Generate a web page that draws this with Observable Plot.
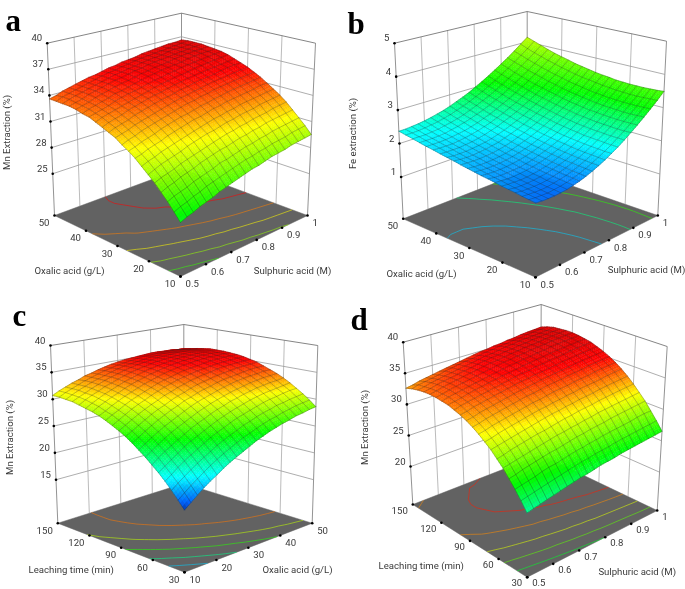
<!DOCTYPE html>
<html><head><meta charset="utf-8">
<script src="https://cdn.jsdelivr.net/npm/d3@7"></script>
<script src="https://cdn.jsdelivr.net/npm/@observablehq/plot@0.6"></script>
<style>html,body{margin:0;padding:0;background:#fff}svg{display:block;filter:blur(.3px)}</style></head><body>
<script>
// Response heights: one row per y-axis grid line, one value per x-axis grid line
const mnOxalicSulphuric=[
[25.8,26.1,26.3,26.6,26.8,27.0,27.3,27.5,27.7,27.9,28.1,28.3,28.4,28.6,28.8,28.9,29.0,29.2,29.3,29.4,29.5],
[26.6,26.9,27.1,27.4,27.6,27.9,28.1,28.3,28.5,28.7,28.9,29.1,29.2,29.4,29.5,29.7,29.8,29.9,30.1,30.2,30.3],
[27.4,27.7,27.9,28.1,28.4,28.6,28.8,29.0,29.3,29.4,29.6,29.8,30.0,30.1,30.3,30.4,30.6,30.7,30.8,30.9,31.0],
[28.1,28.4,28.6,28.9,29.1,29.3,29.6,29.8,30.0,30.2,30.3,30.5,30.7,30.8,31.0,31.1,31.3,31.4,31.5,31.6,31.7],
[28.8,29.1,29.3,29.5,29.8,30.0,30.2,30.4,30.6,30.8,31.0,31.2,31.3,31.5,31.6,31.8,31.9,32.0,32.2,32.3,32.4],
[29.4,29.7,30.0,30.2,30.4,30.6,30.9,31.1,31.3,31.5,31.6,31.8,32.0,32.1,32.3,32.4,32.5,32.7,32.8,32.9,33.0],
[30.0,30.3,30.5,30.8,31.0,31.2,31.4,31.6,31.8,32.0,32.2,32.4,32.5,32.7,32.8,33.0,33.1,33.2,33.3,33.4,33.5],
[30.6,30.8,31.1,31.3,31.5,31.8,32.0,32.2,32.4,32.6,32.7,32.9,33.1,33.2,33.4,33.5,33.6,33.7,33.8,34.0,34.0],
[31.1,31.3,31.6,31.8,32.0,32.3,32.5,32.7,32.9,33.0,33.2,33.4,33.5,33.7,33.8,34.0,34.1,34.2,34.3,34.4,34.5],
[31.5,31.8,32.0,32.3,32.5,32.7,32.9,33.1,33.3,33.5,33.7,33.8,34.0,34.1,34.3,34.4,34.5,34.6,34.7,34.8,34.9],
[32.0,32.2,32.4,32.7,32.9,33.1,33.3,33.5,33.7,33.9,34.1,34.2,34.4,34.5,34.7,34.8,34.9,35.0,35.1,35.2,35.3],
[32.3,32.6,32.8,33.0,33.3,33.5,33.7,33.9,34.1,34.2,34.4,34.6,34.7,34.9,35.0,35.1,35.2,35.4,35.5,35.6,35.6],
[32.6,32.9,33.1,33.3,33.6,33.8,34.0,34.2,34.4,34.5,34.7,34.9,35.0,35.2,35.3,35.4,35.5,35.6,35.7,35.8,35.9],
[32.9,33.2,33.4,33.6,33.8,34.0,34.2,34.4,34.6,34.8,35.0,35.1,35.3,35.4,35.5,35.7,35.8,35.9,36.0,36.1,36.2],
[33.2,33.4,33.6,33.8,34.1,34.3,34.5,34.6,34.8,35.0,35.2,35.3,35.5,35.6,35.8,35.9,36.0,36.1,36.2,36.3,36.4],
[33.3,33.6,33.8,34.0,34.2,34.5,34.6,34.8,35.0,35.2,35.4,35.5,35.7,35.8,35.9,36.0,36.2,36.3,36.4,36.4,36.5],
[33.5,33.7,33.9,34.2,34.4,34.6,34.8,35.0,35.1,35.3,35.5,35.6,35.8,35.9,36.0,36.2,36.3,36.4,36.5,36.5,36.6],
[33.6,33.8,34.0,34.3,34.5,34.7,34.9,35.1,35.2,35.4,35.6,35.7,35.9,36.0,36.1,36.2,36.3,36.4,36.5,36.6,36.7],
[33.6,33.9,34.1,34.3,34.5,34.7,34.9,35.1,35.3,35.4,35.6,35.7,35.9,36.0,36.1,36.2,36.4,36.5,36.5,36.6,36.7],
[33.6,33.9,34.1,34.3,34.5,34.7,34.9,35.1,35.3,35.4,35.6,35.7,35.9,36.0,36.1,36.2,36.3,36.4,36.5,36.6,36.7],
[33.6,33.8,34.1,34.3,34.5,34.7,34.9,35.0,35.2,35.4,35.5,35.7,35.8,35.9,36.1,36.2,36.3,36.4,36.5,36.5,36.6]];
const feOxalicSulphuric=[
[1.76,1.74,1.73,1.73,1.74,1.76,1.80,1.84,1.90,1.97,2.05,2.14,2.25,2.36,2.49,2.63,2.78,2.94,3.11,3.29,3.49],
[1.78,1.76,1.75,1.74,1.76,1.78,1.81,1.86,1.91,1.98,2.06,2.15,2.25,2.36,2.49,2.62,2.77,2.93,3.10,3.28,3.47],
[1.80,1.78,1.77,1.76,1.77,1.80,1.83,1.87,1.92,1.99,2.07,2.16,2.26,2.37,2.49,2.62,2.77,2.92,3.09,3.27,3.46],
[1.83,1.80,1.79,1.79,1.79,1.81,1.85,1.89,1.94,2.01,2.08,2.17,2.27,2.38,2.50,2.63,2.77,2.92,3.09,3.26,3.45],
[1.85,1.82,1.81,1.81,1.82,1.84,1.87,1.91,1.96,2.02,2.10,2.18,2.28,2.39,2.51,2.64,2.78,2.93,3.09,3.26,3.45],
[1.87,1.85,1.84,1.83,1.84,1.86,1.89,1.93,1.98,2.05,2.12,2.20,2.30,2.40,2.52,2.65,2.79,2.94,3.10,3.27,3.45],
[1.90,1.88,1.86,1.86,1.87,1.89,1.92,1.96,2.01,2.07,2.14,2.23,2.32,2.43,2.54,2.67,2.81,2.95,3.11,3.28,3.46],
[1.93,1.90,1.89,1.89,1.90,1.91,1.94,1.98,2.04,2.10,2.17,2.25,2.34,2.45,2.56,2.69,2.82,2.97,3.13,3.30,3.47],
[1.95,1.93,1.92,1.92,1.93,1.95,1.98,2.02,2.07,2.13,2.20,2.28,2.37,2.48,2.59,2.71,2.85,3.00,3.15,3.32,3.50],
[1.98,1.96,1.95,1.95,1.96,1.98,2.01,2.05,2.10,2.16,2.23,2.31,2.41,2.51,2.62,2.75,2.88,3.03,3.18,3.35,3.52],
[2.01,1.99,1.98,1.98,1.99,2.01,2.04,2.08,2.14,2.20,2.27,2.35,2.44,2.55,2.66,2.78,2.91,3.06,3.21,3.38,3.55],
[2.04,2.03,2.02,2.02,2.03,2.05,2.08,2.12,2.17,2.24,2.31,2.39,2.48,2.59,2.70,2.82,2.95,3.10,3.25,3.41,3.59],
[2.08,2.06,2.05,2.05,2.07,2.09,2.12,2.16,2.22,2.28,2.35,2.43,2.53,2.63,2.74,2.87,3.00,3.14,3.29,3.45,3.63],
[2.11,2.09,2.09,2.09,2.11,2.13,2.16,2.20,2.26,2.32,2.40,2.48,2.57,2.68,2.79,2.91,3.05,3.19,3.34,3.50,3.67],
[2.14,2.13,2.13,2.13,2.15,2.17,2.21,2.25,2.31,2.37,2.45,2.53,2.62,2.73,2.84,2.96,3.10,3.24,3.39,3.55,3.73],
[2.18,2.17,2.17,2.17,2.19,2.22,2.26,2.30,2.36,2.42,2.50,2.58,2.68,2.78,2.90,3.02,3.15,3.30,3.45,3.61,3.78],
[2.21,2.21,2.21,2.22,2.24,2.27,2.30,2.35,2.41,2.48,2.55,2.64,2.74,2.84,2.96,3.08,3.21,3.36,3.51,3.67,3.84],
[2.25,2.25,2.25,2.26,2.28,2.32,2.36,2.41,2.47,2.54,2.61,2.70,2.80,2.90,3.02,3.15,3.28,3.42,3.58,3.74,3.91],
[2.29,2.29,2.29,2.31,2.33,2.37,2.41,2.46,2.52,2.60,2.68,2.77,2.86,2.97,3.09,3.22,3.35,3.50,3.65,3.81,3.99],
[2.33,2.33,2.34,2.36,2.39,2.42,2.47,2.52,2.59,2.66,2.74,2.83,2.93,3.04,3.16,3.29,3.43,3.57,3.73,3.89,4.07],
[2.37,2.37,2.39,2.41,2.44,2.48,2.53,2.58,2.65,2.73,2.81,2.90,3.01,3.12,3.24,3.37,3.51,3.65,3.81,3.98,4.15]];
const mnTimeOxalic=[
[17.3,18.2,19.1,20.0,20.8,21.5,22.3,23.0,23.6,24.2,24.8,25.4,25.9,26.4,26.8,27.2,27.5,27.9,28.1,28.4,28.6],
[18.6,19.5,20.4,21.2,22.0,22.8,23.5,24.2,24.8,25.4,26.0,26.5,27.0,27.5,27.9,28.2,28.6,28.9,29.2,29.4,29.6],
[19.9,20.8,21.6,22.4,23.2,23.9,24.6,25.3,25.9,26.5,27.0,27.6,28.0,28.5,28.9,29.2,29.6,29.8,30.1,30.3,30.5],
[21.1,21.9,22.8,23.6,24.3,25.0,25.7,26.4,27.0,27.5,28.1,28.6,29.0,29.4,29.8,30.2,30.5,30.7,31.0,31.2,31.3],
[22.2,23.0,23.8,24.6,25.4,26.1,26.7,27.3,27.9,28.5,29.0,29.5,29.9,30.3,30.7,31.0,31.3,31.5,31.7,31.9,32.1],
[23.2,24.1,24.9,25.6,26.3,27.0,27.7,28.3,28.8,29.4,29.9,30.3,30.8,31.1,31.5,31.8,32.1,32.3,32.5,32.6,32.8],
[24.2,25.0,25.8,26.6,27.3,27.9,28.5,29.1,29.7,30.2,30.7,31.1,31.5,31.9,32.2,32.5,32.8,33.0,33.2,33.3,33.4],
[25.1,25.9,26.7,27.4,28.1,28.7,29.3,29.9,30.5,31.0,31.4,31.8,32.2,32.6,32.9,33.2,33.4,33.6,33.7,33.9,33.9],
[26.0,26.7,27.5,28.2,28.9,29.5,30.1,30.6,31.2,31.6,32.1,32.5,32.8,33.2,33.5,33.7,33.9,34.1,34.3,34.4,34.4],
[26.8,27.5,28.2,28.9,29.6,30.2,30.7,31.3,31.8,32.2,32.7,33.1,33.4,33.7,34.0,34.2,34.4,34.6,34.7,34.8,34.9],
[27.5,28.2,28.9,29.6,30.2,30.8,31.3,31.9,32.3,32.8,33.2,33.6,33.9,34.2,34.4,34.7,34.9,35.0,35.1,35.2,35.2],
[28.1,28.8,29.5,30.2,30.8,31.3,31.9,32.4,32.9,33.3,33.7,34.0,34.3,34.6,34.8,35.0,35.2,35.3,35.4,35.5,35.5],
[28.7,29.4,30.0,30.7,31.3,31.8,32.3,32.8,33.3,33.7,34.0,34.4,34.7,34.9,35.1,35.3,35.5,35.6,35.7,35.7,35.7],
[29.2,29.8,30.5,31.1,31.7,32.2,32.7,33.2,33.6,34.0,34.4,34.7,35.0,35.2,35.4,35.6,35.7,35.8,35.8,35.9,35.8],
[29.6,30.3,30.9,31.5,32.0,32.6,33.1,33.5,33.9,34.3,34.6,34.9,35.2,35.4,35.6,35.7,35.9,35.9,36.0,35.9,35.9],
[29.9,30.6,31.2,31.8,32.3,32.8,33.3,33.7,34.1,34.5,34.8,35.1,35.3,35.5,35.7,35.8,35.9,36.0,36.0,36.0,35.9],
[30.2,30.9,31.5,32.0,32.6,33.0,33.5,33.9,34.3,34.6,34.9,35.2,35.4,35.6,35.7,35.8,35.9,36.0,36.0,35.9,35.9],
[30.5,31.1,31.6,32.2,32.7,33.2,33.6,34.0,34.4,34.7,35.0,35.2,35.4,35.6,35.7,35.8,35.9,35.9,35.9,35.8,35.7],
[30.6,31.2,31.8,32.3,32.8,33.2,33.6,34.0,34.4,34.7,34.9,35.1,35.3,35.5,35.6,35.7,35.7,35.7,35.7,35.6,35.5],
[30.7,31.3,31.8,32.3,32.8,33.2,33.6,34.0,34.3,34.6,34.8,35.0,35.2,35.4,35.4,35.5,35.5,35.5,35.5,35.4,35.2],
[30.7,31.3,31.8,32.3,32.7,33.2,33.5,33.9,34.2,34.5,34.7,34.9,35.0,35.1,35.2,35.3,35.3,35.2,35.2,35.0,34.9]];
const mnTimeSulphuric=[
[23.4,23.6,23.8,24.0,24.2,24.4,24.6,24.8,25.0,25.1,25.3,25.5,25.6,25.7,25.9,26.0,26.1,26.2,26.3,26.4,26.5],
[24.7,24.9,25.1,25.3,25.5,25.7,25.9,26.1,26.3,26.5,26.6,26.8,26.9,27.0,27.2,27.3,27.4,27.5,27.6,27.7,27.8],
[25.9,26.1,26.3,26.5,26.8,27.0,27.1,27.3,27.5,27.7,27.8,28.0,28.1,28.3,28.4,28.5,28.6,28.7,28.9,29.0,29.0],
[27.0,27.2,27.5,27.7,27.9,28.1,28.3,28.4,28.6,28.8,29.0,29.1,29.3,29.4,29.5,29.7,29.8,29.9,30.0,30.1,30.2],
[28.1,28.3,28.5,28.7,28.9,29.1,29.3,29.5,29.7,29.8,30.0,30.1,30.3,30.4,30.6,30.7,30.8,30.9,31.0,31.1,31.2],
[29.0,29.2,29.5,29.7,29.9,30.1,30.3,30.4,30.6,30.8,31.0,31.1,31.3,31.4,31.5,31.7,31.8,31.9,32.0,32.1,32.2],
[29.9,30.1,30.3,30.5,30.7,30.9,31.1,31.3,31.5,31.7,31.8,32.0,32.1,32.3,32.4,32.5,32.7,32.8,32.9,33.0,33.1],
[30.6,30.8,31.1,31.3,31.5,31.7,31.9,32.1,32.3,32.4,32.6,32.7,32.9,33.0,33.2,33.3,33.4,33.5,33.7,33.8,33.9],
[31.3,31.5,31.8,32.0,32.2,32.4,32.6,32.8,33.0,33.1,33.3,33.5,33.6,33.7,33.9,34.0,34.1,34.3,34.4,34.5,34.6],
[31.9,32.1,32.4,32.6,32.8,33.0,33.2,33.4,33.6,33.7,33.9,34.1,34.2,34.3,34.5,34.6,34.7,34.9,35.0,35.1,35.2],
[32.4,32.6,32.9,33.1,33.3,33.5,33.7,33.9,34.1,34.2,34.4,34.6,34.7,34.9,35.0,35.1,35.3,35.4,35.5,35.6,35.7],
[32.8,33.0,33.3,33.5,33.7,33.9,34.1,34.3,34.5,34.7,34.8,35.0,35.1,35.3,35.4,35.6,35.7,35.8,35.9,36.0,36.1],
[33.1,33.4,33.6,33.8,34.0,34.2,34.4,34.6,34.8,35.0,35.2,35.3,35.5,35.6,35.8,35.9,36.0,36.2,36.3,36.4,36.5],
[33.4,33.6,33.8,34.1,34.3,34.5,34.7,34.9,35.1,35.2,35.4,35.6,35.7,35.9,36.0,36.2,36.3,36.4,36.5,36.6,36.7],
[33.5,33.8,34.0,34.2,34.4,34.6,34.8,35.0,35.2,35.4,35.6,35.7,35.9,36.0,36.2,36.3,36.5,36.6,36.7,36.8,36.9],
[33.6,33.8,34.1,34.3,34.5,34.7,34.9,35.1,35.3,35.5,35.7,35.8,36.0,36.1,36.3,36.4,36.5,36.7,36.8,36.9,37.0],
[33.6,33.8,34.1,34.3,34.5,34.7,34.9,35.1,35.3,35.5,35.6,35.8,36.0,36.1,36.3,36.4,36.5,36.7,36.8,36.9,37.0],
[33.5,33.7,34.0,34.2,34.4,34.6,34.8,35.0,35.2,35.4,35.6,35.7,35.9,36.0,36.2,36.3,36.5,36.6,36.7,36.8,36.9],
[33.3,33.5,33.8,34.0,34.2,34.4,34.6,34.8,35.0,35.2,35.4,35.5,35.7,35.9,36.0,36.2,36.3,36.4,36.5,36.6,36.8],
[33.0,33.3,33.5,33.7,33.9,34.2,34.4,34.6,34.8,34.9,35.1,35.3,35.4,35.6,35.7,35.9,36.0,36.2,36.3,36.4,36.5],
[32.6,32.8,33.1,33.3,33.5,33.7,33.9,34.1,34.3,34.5,34.7,34.9,35.0,35.2,35.3,35.5,35.6,35.8,35.9,36.0,36.1]];
const zTicks={a:[25,28,31,34,37,40],b:[1,2,3,4,5],c:[15,20,25,30,35,40],d:[20,25,30,35,40]};
const sulph=[0.5,0.6,0.7,0.8,0.9,1], oxal=[10,20,30,40,50], time=[30,60,90,120,150];
const contourLevels={a:[27.3,29.2,31.3,33.2,35.2],b:[2.12,2.7,3.3],c:[20.5,23.7,27,30,33.3],d:[25.6,28.1,30.6,33,34.8]};

const mnStops=[17,18.2,21.5,26.3,31.2,35.2,38], feStops=[1.2,1.68,2.3,3.1,4.5,5.2,5.5];
const ramp=["#0a2a80","#0060ff","#00ffff","#00ff00","#ffff00","#ff0000","#c80000"];
const P=[
{n:"a",l:[5,30],dy:7.5,z:mnOxalicSulphuric,zr:[20.2,40],zt:zTicks.a,tt:sulph,st:oxal,stops:mnStops,lev:contourLevels.a,
 f:{F:[180,276],L:[54,215],R:[307,215],B:[181,168]},u:{F:[180,85],L:[46.7,42.7],R:[315,42.7],B:[181,12.7]},
 zl:["Mn Extraction (%)",6,132],sl:["Oxalic acid (g/L)",69,270],tl:["Sulphuric acid (M)",292,270]},
{n:"b",l:[347,33],dy:7.5,z:feOxalicSulphuric,zr:[-.25,5],zt:zTicks.b,tt:sulph,st:oxal,stops:feStops,lev:contourLevels.b,
 f:{F:[535,276.7],L:[402.7,218.3],R:[657.3,215],B:[526.7,170]},u:{F:[535.5,82.7],L:[394,42.7],R:[666,40.7],B:[526.7,11]},
 zl:["Fe extraction (%)",352.7,133],sl:["Oxalic acid (g/L)",421,273],tl:["Sulphuric acid (M)",646,269]},
{n:"c",l:[12,325],dy:7.5,z:mnTimeOxalic,zr:[6.9,40],zt:zTicks.c,tt:oxal,st:time,stops:mnStops,lev:contourLevels.c,
 f:{F:[184,571.7],L:[57.3,522.7],R:[311.7,522.7],B:[183.3,483]},u:{F:[184,373.7],L:[50,345],R:[317.3,345],B:[183.3,324]},
 zl:["Mn Extraction (%)",9,437],sl:["Leaching time (min)",70.7,569],tl:["Oxalic acid (g/L)",297,569]},
{n:"d",l:[350,329],dy:6,z:mnTimeSulphuric,zr:[13.9,40],zt:zTicks.d,tt:sulph,st:time,stops:mnStops,lev:contourLevels.d,
 f:{F:[526.7,576.7],L:[412.3,504],R:[656.7,510],B:[540,454.3]},u:{F:[526,400],L:[402.7,341.7],R:[666.7,346],B:[540.7,304]},
 zl:["Mn Extraction (%)",364,427],sl:["Leaching time (min)",420.7,565.7],tl:["Sulphuric acid (M)",636.7,571.7]}
];
const bil=(c,t,s,k)=>(1-t)*(1-s)*c.F[k]+t*(1-s)*c.R[k]+(1-t)*s*c.L[k]+t*s*c.B[k];
const proj=(p,t,s,w)=>[0,1].map(k=>{const a=bil(p.f,t,s,k),b=bil(p.u,t,s,k);return a+w*(b-a)});
const norm=a=>v=>(v-a[0])/(a[a.length-1]-a[0]);
const quads=[],mesh=[],floors=[],walls=[],dots=[],conts=[],labL=[],labR=[],zLab=[];
let id=0;const SUB=3;
for(const p of P){
 const col=d3.scaleLinear().domain(p.stops).range(ramp).clamp(true);
 const W=z=>(z-p.zr[0])/(p.zr[1]-p.zr[0]);
 const pt=(i,j)=>proj(p,i/20,j/20,W(p.z[j][i]));
 for(const[t,s]of[[0,0],[1,0],[1,1],[0,1],[0,0]]){const q=proj(p,t,s,0);floors.push({x:q[0],y:q[1],g:p.n})}
 const link=(a,b,c)=>walls.push({x1:a[0],y1:a[1],x2:b[0],y2:b[1],c});
 const tn=norm(p.tt),sn=norm(p.st);
 link(proj(p,0,1,0),proj(p,0,1,1),"#777");link(proj(p,1,0,0),proj(p,1,0,1),"#777");link(proj(p,1,1,0),proj(p,1,1,1),"#777");
 for(const v of p.tt.slice(1,-1)){link(proj(p,tn(v),1,0),proj(p,tn(v),1,1),"#aaa")}
 for(const v of p.st.slice(1,-1)){link(proj(p,1,sn(v),0),proj(p,1,sn(v),1),"#aaa")}
 for(const z of p.zt){const w=W(z),top=z===p.zt[p.zt.length-1];
  link(proj(p,0,1,w),proj(p,1,1,w),top?"#666":"#999");link(proj(p,1,1,w),proj(p,1,0,w),top?"#666":"#999");
  const q=proj(p,0,1,w);dots.push({x:q[0],y:q[1]});zLab.push({x:q[0]-5,y:q[1]-5,t:String(z)});}
 p.st.forEach(v=>{const q=proj(p,0,sn(v),0);dots.push({x:q[0],y:q[1]});labL.push({x:q[0]-5,y:q[1]+p.dy,t:String(v)})});
 p.tt.forEach(v=>{const q=proj(p,tn(v),0,0);dots.push({x:q[0],y:q[1]});labR.push({x:q[0]+5,y:q[1]+p.dy,t:String(v)})});
 for(const L of p.lev){for(let j=0;j<20;j++)for(let i=0;i<20;i++){
  const c=[[i,j],[i+1,j],[i+1,j+1],[i,j+1]],xs=[];
  for(let e=0;e<4;e++){const A=c[e],B=c[(e+1)%4],va=p.z[A[1]][A[0]],vb=p.z[B[1]][B[0]];
   if((va<L)!==(vb<L)){const r=(L-va)/(vb-va);xs.push(proj(p,(A[0]+r*(B[0]-A[0]))/20,(A[1]+r*(B[1]-A[1]))/20,0))}}
  for(let e=0;e+1<xs.length;e+=2)conts.push({x1:xs[e][0],y1:xs[e][1],x2:xs[e+1][0],y2:xs[e+1][1],c:col(L)});
 }}
 // each mesh cell is shaded with SUB×SUB tints between its four corner values
 for(let j=19;j>=0;j--)for(let i=19;i>=0;i--){
  const a=pt(i,j),b=pt(i+1,j),c=pt(i+1,j+1),d=pt(i,j+1),za=p.z[j][i],zb=p.z[j][i+1],zc=p.z[j+1][i+1],zd=p.z[j+1][i];
  const mix=(va,vb,vc,vd,u,v)=>(1-u)*(1-v)*va+u*(1-v)*vb+u*v*vc+(1-u)*v*vd;
  for(let n=SUB-1;n>=0;n--)for(let m=SUB-1;m>=0;m--){id++;
   const col1=col(mix(za,zb,zc,zd,(m+.5)/SUB,(n+.5)/SUB));
   for(const[u,v]of[[m,n],[m+1,n],[m+1,n+1],[m,n+1],[m,n]]){const U=u/SUB,V=v/SUB;
    quads.push({x:mix(a[0],b[0],c[0],d[0],U,V),y:mix(a[1],b[1],c[1],d[1],U,V),id,c:col1})}
  }
 }
 for(let j=0;j<=20;j++){id++;for(let i=0;i<=20;i++){const q=pt(i,j);mesh.push({x:q[0],y:q[1],id})}}
 for(let i=0;i<=20;i++){id++;for(let j=0;j<=20;j++){const q=pt(i,j);mesh.push({x:q[0],y:q[1],id})}}
}
const F="Roboto,sans-serif",FS=9.6,TC="#3a3a3a";
const titles=P.flatMap(p=>[p.sl,p.tl]).map(([t,x,y])=>({t,x,y}));
const rot=P.map(p=>({t:p.zl[0],x:p.zl[1],y:p.zl[2]}));
const let_=P.map(p=>({t:p.n,x:p.l[0],y:p.l[1]}));
document.body.append(Plot.plot({width:685,height:589,margin:0,style:{background:"#fff"},
 x:{domain:[0,685],range:[0,685],axis:null},y:{domain:[0,589],range:[0,589],axis:null},color:{type:"identity"},
 marks:[
  Plot.link(walls,{x1:"x1",y1:"y1",x2:"x2",y2:"y2",stroke:"c",strokeWidth:.8}),
  Plot.line(floors,{x:"x",y:"y",z:"g",fill:"#626262",stroke:"#626262",strokeWidth:.5}),
  Plot.link(conts,{x1:"x1",y1:"y1",x2:"x2",y2:"y2",stroke:"c",strokeWidth:1,strokeOpacity:.55}),
  Plot.dot(dots,{x:"x",y:"y",r:1.3,fill:"#000"}),
  Plot.line(quads,{x:"x",y:"y",z:"id",fill:"c",stroke:"c",strokeWidth:.4}),
  Plot.line(mesh,{x:"x",y:"y",z:"id",stroke:"#222",strokeWidth:.55,strokeOpacity:.5}),
  Plot.text(zLab,{x:"x",y:"y",text:"t",textAnchor:"end",fontFamily:F,fontSize:FS,fill:TC}),
  Plot.text(labL,{x:"x",y:"y",text:"t",textAnchor:"end",fontFamily:F,fontSize:FS,fill:TC}),
  Plot.text(labR,{x:"x",y:"y",text:"t",textAnchor:"start",fontFamily:F,fontSize:FS,fill:TC}),
  Plot.text(titles,{x:"x",y:"y",text:"t",fontFamily:F,fontSize:FS,fill:TC}),
  Plot.text(rot,{x:"x",y:"y",text:"t",rotate:-90,fontFamily:F,fontSize:FS,fill:TC}),
  Plot.text(let_,{x:"x",y:"y",text:"t",textAnchor:"start",lineAnchor:"bottom",fontFamily:"'Liberation Serif',serif",fontWeight:"bold",fontSize:31,fill:"#000"})
 ]}));
</script></body></html>
